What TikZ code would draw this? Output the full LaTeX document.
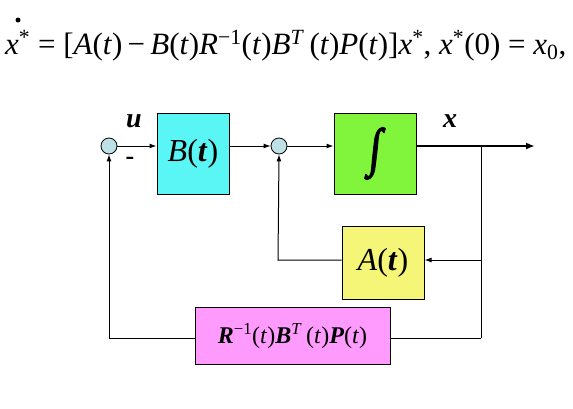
\documentclass[tikz,border=0pt]{standalone}
\usepackage{fontspec}
\setmainfont{Liberation Serif}
\newfontface\intfont[FakeBold=3]{Liberation Serif}
\usepackage{graphicx}
\usetikzlibrary{arrows.meta}
\definecolor{cyanbox}{RGB}{90,245,245}
\definecolor{greenbox}{RGB}{128,245,60}
\definecolor{yellowbox}{RGB}{245,245,120}
\definecolor{pinkbox}{RGB}{255,155,255}
\definecolor{sumfill}{RGB}{190,225,230}
\newcommand{\bi}[1]{\textbf{\textit{#1}}}
\begin{document}
\begin{tikzpicture}[x=1pt,y=-1pt,
  blk/.style={draw=black,line width=1pt,inner sep=0pt,anchor=center},
  sumnode/.style={circle,draw=black,line width=0.8pt,fill=sumfill,minimum size=16pt,inner sep=0pt},
  wire/.style={line width=1pt},
  arr/.style={wire,-{Latex[length=7pt,width=5pt]}}]
\useasboundingbox (0,0) rectangle (573,408);
% equation
\node[anchor=base west,inner sep=0pt,font=\fontsize{31}{34}\selectfont] (eq) at (5,54)
 {\textit{x}\textsuperscript{*} = [\textit{A}(\textit{t})\,−\,\textit{B}(\textit{t})\textit{R}\textsuperscript{−1}(\textit{t})\textit{B}\textsuperscript{\textit{T}}\,(\textit{t})\textit{P}(\textit{t})]\textit{x}\textsuperscript{*}, \textit{x}\textsuperscript{*}(0) = \textit{x}\textsubscript{0},};
\node[circle,fill=black,inner sep=0pt,minimum size=5pt] (dot) at (18,20) {};
% sums
\node[sumnode] (s1) at (109,146) {};
\node[sumnode] (s2) at (279,146) {};
% blocks
\node[blk,fill=cyanbox,minimum width=72pt,minimum height=81pt,font=\fontsize{32}{34}\selectfont] (B) at (193,153.5) {\textit{B}(\bi{t})};
\node[blk,fill=greenbox,minimum width=82pt,minimum height=81pt] (I) at (375,153.5) {\rotatebox{-6}{\scalebox{1}[1.35]{\fontsize{40}{42}\intfont ∫}}};
\node[blk,fill=yellowbox,minimum width=82pt,minimum height=73pt,font=\fontsize{32}{34}\selectfont] (A) at (383,262.5) {\textit{A}(\bi{t})};
\node[blk,fill=pinkbox,minimum width=195pt,minimum height=57pt,font=\fontsize{24}{26}\selectfont] (R) at (292.5,336) {\bi{R}\textsuperscript{−1}(\textit{t})\bi{B}\textsuperscript{\textit{T}}\,(\textit{t})\bi{P}(\textit{t})};
% labels
\node[font=\fontsize{28}{30}\selectfont] (u) at (134,121) {\bi{u}};
\node[font=\fontsize{28}{30}\selectfont] (xl) at (450,121) {\bi{x}};
\node[font=\bfseries\fontsize{26}{28}\selectfont] (minus) at (130,161) {-};
% coordinates
\coordinate (out) at (535,146);
\coordinate (br) at (481,146);
\coordinate (brA) at (481,260);
\coordinate (brR) at (481,338);
\coordinate (aL) at (278,260);
\coordinate (rL) at (109,338);
% wires
\draw[arr] (s1) -- (s1 -| B.west);
\draw[arr] (B.east |- s2) -- (s2);
\draw[arr] (s2) -- (s2 -| I.west);
\draw[line width=2.2pt,-{Latex[length=9pt,width=7pt]}] (I.east |- out) -- (out);
\draw[wire] (br) -- (brR);
\draw[arr] (brA) -- (A.east |- brA);
\draw[arr] (A.west |- aL) -- (aL) -- (s2.south);
\draw[wire] (brR) -- (R.east |- brR);
\draw[arr] (R.west |- rL) -- (rL) -- (s1.south);
\end{tikzpicture}
\end{document}
